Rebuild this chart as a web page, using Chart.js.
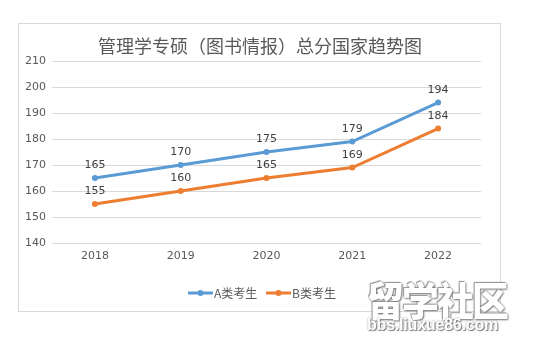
<!DOCTYPE html>
<html><head><meta charset="utf-8">
<script src="https://cdn.jsdelivr.net/npm/chart.js@4/dist/chart.umd.min.js"></script>
<style>
html,body{margin:0;padding:0;background:#fff;}
#wrap{position:relative;width:560px;height:348px;}
canvas{position:absolute;left:0;top:0;}
.wm1{position:absolute;left:367px;top:270px;font:900 40px "Noto Sans CJK SC";color:#fff;letter-spacing:-2px;
 transform:scaleX(0.92);transform-origin:0 0;white-space:nowrap;
 text-shadow:0 0 2px #888,1px 1px 2px #777,-1px -1px 1px #999;}
.wm2{position:absolute;left:367px;top:316px;font:700 16px "Liberation Sans";color:#fff;letter-spacing:-0.2px;white-space:nowrap;
 text-shadow:0 0 2px #888,1px 1px 1px #777;}
</style></head>
<body><div id="wrap"><canvas id="c" width="560" height="348"></canvas>
<div class="wm1">留学社区</div><div class="wm2">bbs.liuxue86.com</div></div>
<script>
const categories = ['2018','2019','2020','2021','2022'];
const seriesA = [165,170,175,179,194];
const seriesB = [155,160,165,169,184];
const seriesNames = ['A类考生','B类考生'];
const chartTitle = '管理学专硕（图书情报）总分国家趋势图';

const frame = {
  id:'frame',
  beforeDraw(chart){
    const ctx=chart.ctx; ctx.save();
    ctx.strokeStyle='#d9d9d9'; ctx.lineWidth=1;
    ctx.strokeRect(18.5,23.5,482,288);
    ctx.fillStyle='#595959'; ctx.font='18px "Noto Sans CJK SC"';
    ctx.textAlign='center'; ctx.textBaseline='middle';
    ctx.fillText(chartTitle,260,46);
    ctx.restore();
  },
  afterDatasetsDraw(chart){
    const ctx=chart.ctx; ctx.save();
    ctx.font='11px "DejaVu Sans"'; ctx.fillStyle='#404040';
    ctx.textAlign='center'; ctx.textBaseline='bottom';
    chart.data.datasets.forEach((ds,i)=>{
      const meta=chart.getDatasetMeta(i);
      meta.data.forEach((pt,j)=>{ ctx.fillText(String(ds.data[j]),pt.x,pt.y-7); });
    });
    // legend
    const items=chart.data.datasets; const xs=[188,266];
    items.forEach((ds,i)=>{
      const x=xs[i], y=293;
      ctx.strokeStyle=ds.borderColor; ctx.lineWidth=3;
      ctx.beginPath(); ctx.moveTo(x,y); ctx.lineTo(x+25,y); ctx.stroke();
      ctx.fillStyle=ds.borderColor; ctx.beginPath(); ctx.arc(x+12.5,y,3,0,Math.PI*2); ctx.fill();
      ctx.fillStyle='#595959'; ctx.font='12px "Noto Sans CJK SC"';
      ctx.textAlign='left'; ctx.textBaseline='middle';
      ctx.fillText(ds.label,x+26,y);
    });
    ctx.restore();
  }
};

new Chart(document.getElementById('c'),{
  type:'line',
  data:{labels:categories,datasets:[
    {label:seriesNames[0],data:seriesA,borderColor:'#5b9bd5',backgroundColor:'#5b9bd5',borderWidth:3,pointRadius:3,pointBackgroundColor:'#5b9bd5',pointBorderWidth:0,tension:0},
    {label:seriesNames[1],data:seriesB,borderColor:'#ed7d31',backgroundColor:'#ed7d31',borderWidth:3,pointRadius:3,pointBackgroundColor:'#ed7d31',pointBorderWidth:0,tension:0}
  ]},
  options:{
    responsive:false,animation:false,
    layout:{padding:{left:25,right:79,top:61,bottom:348-243-25}},
    plugins:{legend:{display:false},title:{display:false},tooltip:{enabled:false}},
    scales:{
      y:{min:140,max:210,ticks:{stepSize:10,color:'#595959',font:{size:11,family:'DejaVu Sans'},padding:8,crossAlign:'far'},
         grid:{color:'#d9d9d9',drawTicks:false},border:{display:false},
         afterFit(s){s.width=27;}},
      x:{offset:true,ticks:{color:'#595959',font:{size:11,family:'DejaVu Sans'},padding:7,maxRotation:0},
         grid:{display:false,drawTicks:false},border:{display:false},
         afterFit(s){s.height=25;}}
    }
  },
  plugins:[frame]
});
</script></body></html>
